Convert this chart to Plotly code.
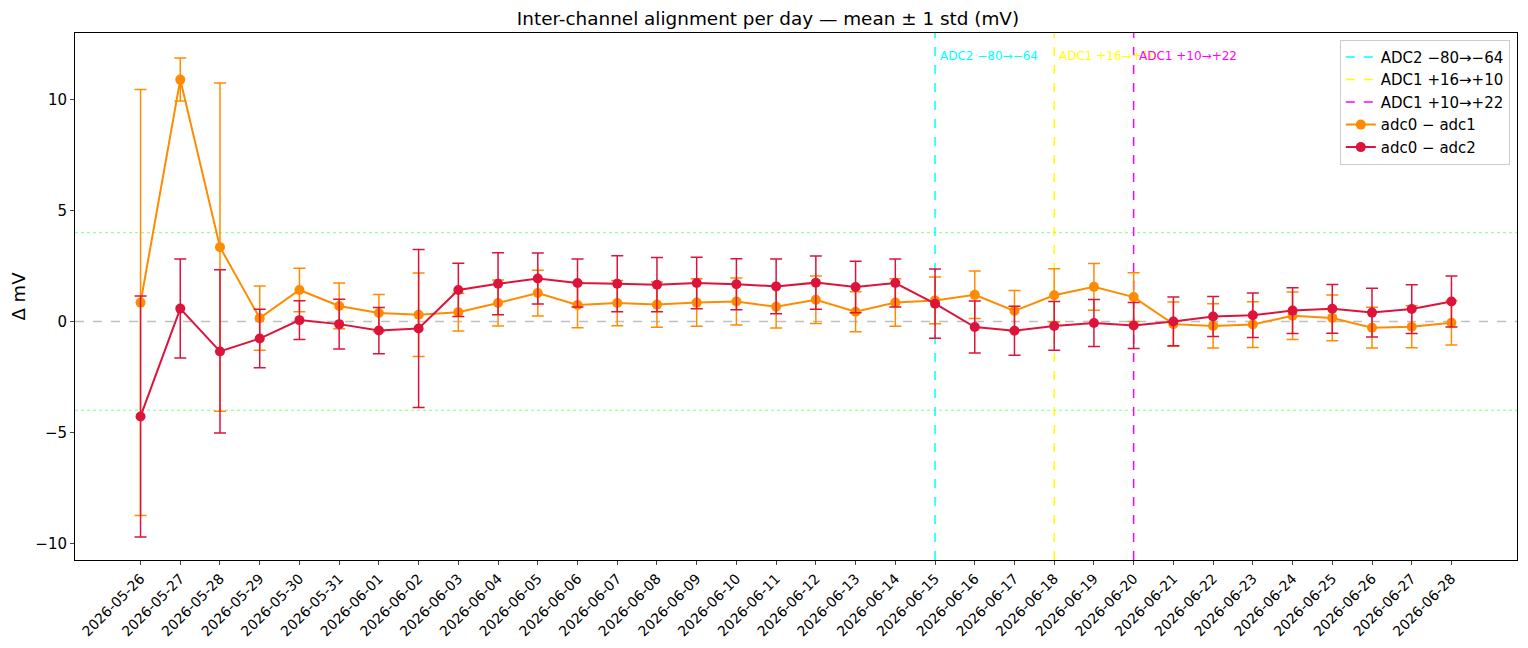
import plotly.graph_objects as go

# day labels on the x axis
days = ["2026-05-26", "2026-05-27", "2026-05-28", "2026-05-29", "2026-05-30",
        "2026-05-31", "2026-06-01", "2026-06-02", "2026-06-03", "2026-06-04",
        "2026-06-05", "2026-06-06", "2026-06-07", "2026-06-08", "2026-06-09",
        "2026-06-10", "2026-06-11", "2026-06-12", "2026-06-13", "2026-06-14",
        "2026-06-15", "2026-06-16", "2026-06-17", "2026-06-18", "2026-06-19",
        "2026-06-20", "2026-06-21", "2026-06-22", "2026-06-23", "2026-06-24",
        "2026-06-25", "2026-06-26", "2026-06-27", "2026-06-28"]

# adc0 - adc1 (mV)
d01_mean = [0.85, 10.9, 3.35, 0.15, 1.42, 0.70, 0.38, 0.30, 0.42, 0.83,
            1.28, 0.74, 0.83, 0.76, 0.85, 0.90, 0.66, 0.98, 0.44, 0.85,
            0.95, 1.20, 0.48, 1.18, 1.56, 1.10, -0.12, -0.20, -0.14, 0.26,
            0.16, -0.28, -0.24, -0.06]
d01_std = [9.6, 0.97, 7.4, 1.45, 0.98, 1.03, 0.83, 1.88, 0.85, 1.04,
           1.03, 1.02, 1.02, 1.02, 1.07, 1.06, 0.95, 1.07, 0.90, 1.07,
           1.05, 1.07, 0.91, 1.19, 1.05, 1.10, 1.00, 1.00, 1.03, 1.07,
           1.03, 0.92, 0.95, 1.00]

# adc0 - adc2 (mV)
d02_mean = [-4.28, 0.58, -1.35, -0.77, 0.06, -0.12, -0.41, -0.32, 1.42, 1.70,
            1.94, 1.73, 1.70, 1.66, 1.73, 1.68, 1.58, 1.75, 1.55, 1.73,
            0.80, -0.25, -0.42, -0.20, -0.07, -0.18, 0.00, 0.22, 0.28, 0.49,
            0.57, 0.40, 0.56, 0.90]
d02_std = [5.43, 2.23, 3.68, 1.32, 0.87, 1.12, 1.04, 3.56, 1.20, 1.40,
           1.15, 1.08, 1.26, 1.22, 1.16, 1.15, 1.23, 1.20, 1.16, 1.08,
           1.56, 1.17, 1.10, 1.10, 1.06, 1.04, 1.10, 0.90, 1.00, 1.03,
           1.10, 1.10, 1.10, 1.15]

# offset changes
ev_days = ["2026-06-15", "2026-06-18", "2026-06-20"]
ev_labels = ["ADC2 −80→−64", "ADC1 +16→+10", "ADC1 +10→+22"]
ev_colors = ["#00ffff", "#ffff00", "#ff00ff"]

tol = 4

fig = go.Figure()

# reference lines
fig.add_hline(y=0, line=dict(color="rgba(128,128,128,0.5)", width=1.5, dash="dash"), layer="below")
for s in (tol, -tol):
    fig.add_hline(y=s, line=dict(color="rgba(0,255,0,0.5)", width=1, dash="dot"), layer="below")

for i in range(len(ev_days)):
    fig.add_shape(type="line", xref="x", yref="paper", x0=ev_days[i], x1=ev_days[i], y0=0, y1=1,
                  line=dict(color=ev_colors[i], width=1.5, dash="dash"), layer="below",
                  showlegend=True, name=ev_labels[i], legendrank=i + 1)
    fig.add_annotation(x=ev_days[i], y=0.956, xref="x", yref="paper", text=ev_labels[i],
                       showarrow=False, xanchor="left", yanchor="middle", xshift=3,
                       font=dict(color=ev_colors[i], size=12))

fig.add_trace(go.Scatter(x=days, y=d01_mean, mode="lines+markers", name="adc0 − adc1",
                         line=dict(color="#ff8c00", width=2), marker=dict(size=10, color="#ff8c00"),
                         error_y=dict(type="data", array=d01_std, color="#ff8c00", thickness=1.5, width=6),
                         legendrank=10))
fig.add_trace(go.Scatter(x=days, y=d02_mean, mode="lines+markers", name="adc0 − adc2",
                         line=dict(color="#dc143c", width=2), marker=dict(size=10, color="#dc143c"),
                         error_y=dict(type="data", array=d02_std, color="#dc143c", thickness=1.5, width=6),
                         legendrank=11))

fig.update_layout(
    width=1520, height=640,
    margin=dict(l=67, r=11, t=25, b=88),
    paper_bgcolor="white", plot_bgcolor="white",
    font=dict(family="DejaVu Sans", size=15, color="black"),
    title=dict(text="Inter-channel alignment per day — mean ± 1 std (mV)", x=0.5, xanchor="center",
               y=0.983, yanchor="middle", font=dict(size=18.4)),
    legend=dict(x=0.995, y=0.987, xanchor="right", yanchor="top", bgcolor="rgba(255,255,255,0.8)",
                bordercolor="#cccccc", borderwidth=1, font=dict(size=15)),
    showlegend=True,
)
fig.update_xaxes(type="category", categoryorder="array", categoryarray=days,
                 range=[-1.65, len(days) - 1 + 1.65], tickangle=-45, tickfont=dict(size=14),
                 showgrid=False, showline=True, linecolor="black", mirror=True,
                 ticks="outside", ticklen=4, zeroline=False, automargin=False)
fig.update_yaxes(title=dict(text="Δ mV", standoff=6), range=[-10.75, 13.0],
                 tickvals=[-10, -5, 0, 5, 10], ticktext=["−10", "−5", "0", "5", "10"],
                 tickfont=dict(size=15),
                 showgrid=False, showline=True, linecolor="black", mirror=True,
                 ticks="outside", ticklen=4, zeroline=False, automargin=False)

fig.write_html("out.html")
